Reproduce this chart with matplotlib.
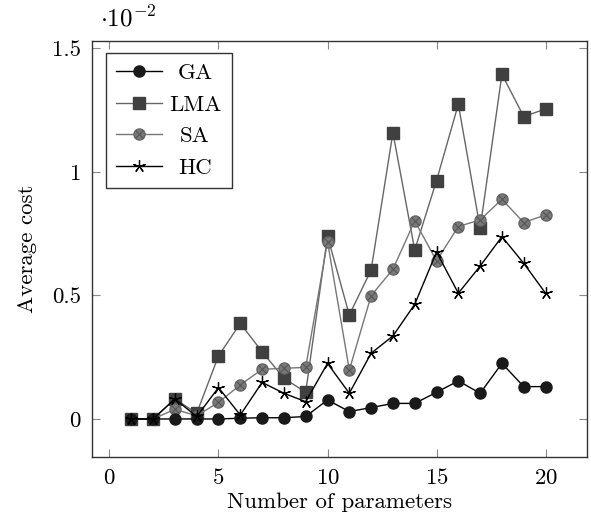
import matplotlib
matplotlib.use('Agg')
import matplotlib.pyplot as plt
from matplotlib.legend_handler import HandlerTuple

# values in units of 1e-2
n_params = list(range(1, 21))
ga = [0, 0, 0, 0, 0, 0.003, 0.005, 0.005, 0.01, 0.077,
      0.03, 0.046, 0.063, 0.063, 0.108, 0.154, 0.104, 0.225, 0.131, 0.131]
lma = [0, 0, 0.081, 0.023, 0.255, 0.387, 0.272, 0.165, 0.108, 0.74,
       0.421, 0.603, 1.159, 0.684, 0.965, 1.274, 0.772, 1.395, 1.224, 1.255]
sa = [0, 0, 0.039, 0.013, 0.067, 0.138, 0.201, 0.205, 0.209, 0.718,
      0.198, 0.499, 0.606, 0.802, 0.64, 0.779, 0.806, 0.889, 0.795, 0.826]
hc = [0, 0, 0.081, 0.01, 0.127, 0.016, 0.148, 0.104, 0.07, 0.225,
      0.104, 0.266, 0.336, 0.464, 0.676, 0.509, 0.619, 0.738, 0.63, 0.509]
names = ['GA', 'LMA', 'SA', 'HC']

plt.rcParams['font.family'] = 'cmr10'
plt.rcParams['mathtext.fontset'] = 'cm'
plt.rcParams['axes.formatter.use_mathtext'] = True

fs = 16.5

fig = plt.figure(figsize=(5.91, 5.15), dpi=100)
ax = fig.add_axes([0.1557, 0.1126, 0.8375, 0.8078])

l_ga, = ax.plot(n_params, ga, color='black', lw=1, marker='o', ms=8,
                mfc='#1a1a1a', mec='#1a1a1a', zorder=5)
l_lma, = ax.plot(n_params, lma, color='#666666', lw=1, marker='s', ms=8,
                 mfc='#404040', mec='#404040', zorder=3)
l_sa, = ax.plot(n_params, sa, color='#777777', lw=1, marker='o', ms=8,
                mfc='#7a7a7a', mec='#666666', zorder=4)
l_sax, = ax.plot(n_params, sa, ls='none', marker='x', ms=5.5, mew=0.8,
                 color='#555555', zorder=4)
l_hc, = ax.plot(n_params, hc, color='black', lw=1, marker=(5, 2, 0), ms=9,
                mew=0.9, zorder=6)

ax.set_xlim(-0.8, 21.9)
ax.set_ylim(-0.154, 1.53)
ax.set_xticks([0, 5, 10, 15, 20])
ax.set_yticks([0, 0.5, 1, 1.5])
ax.set_yticklabels(['0', '0.5', '1', '1.5'])
ax.tick_params(direction='in', top=True, right=True, labelsize=fs,
               color='#888888', length=6, pad=8)
for s in ax.spines.values():
    s.set_color('#333333')
    s.set_linewidth(1)

ax.set_xlabel('Number of parameters', fontsize=fs, labelpad=3.5)
ax.set_ylabel('Average cost', fontsize=fs, labelpad=11)
ax.text(0.016, 1.022, r'$\cdot 10^{-2}$', transform=ax.transAxes, fontsize=18,
        ha='left', va='bottom')

leg = ax.legend([l_ga, l_lma, (l_sa, l_sax), l_hc], names,
                handler_map={tuple: HandlerTuple(ndivide=1, pad=0)},
                loc='upper left', bbox_to_anchor=(0.028, 0.971),
                fontsize=fs, fancybox=False, edgecolor='#333333',
                framealpha=1, handlelength=2.0, handletextpad=0.3,
                borderpad=0.45, labelspacing=0.5, borderaxespad=0)
leg.get_frame().set_linewidth(1)

# centre the legend labels like pgfplots does
fig.canvas.draw()
renderer = fig.canvas.get_renderer()
texts = leg.get_texts()
widths = [t.get_window_extent(renderer).width for t in texts]
for t, w in zip(texts, widths):
    t.set_x((max(widths) - w) / 2)

plt.savefig('out.png', dpi=100)
